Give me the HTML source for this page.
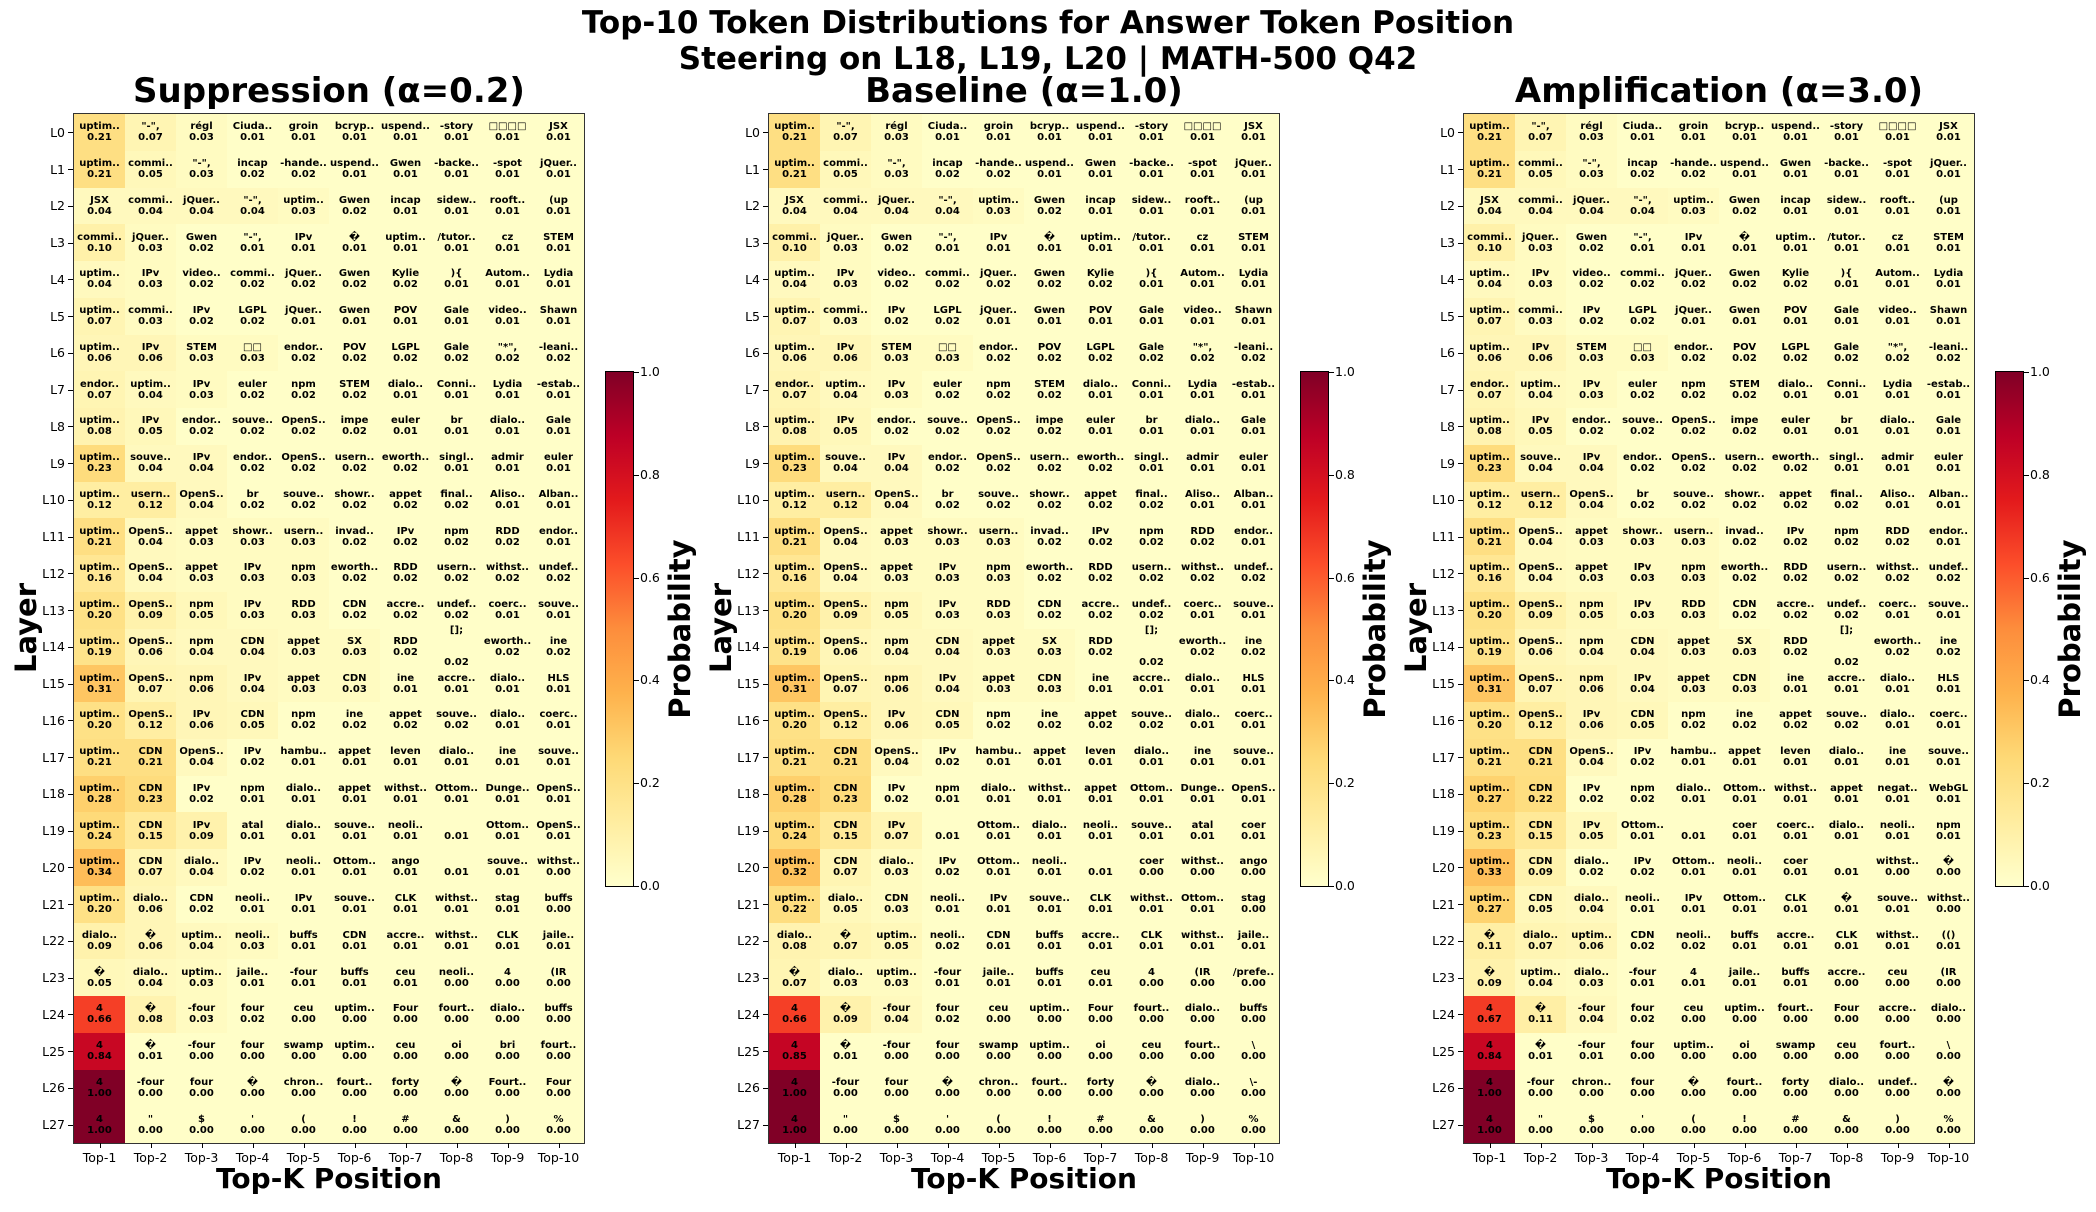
<!DOCTYPE html>
<html><head><meta charset="utf-8"><style>
body{margin:0;width:2096px;height:1212px;background:#fff;position:relative;overflow:hidden;font-family:"DejaVu Sans","Liberation Sans",sans-serif}
.t{position:absolute;font-weight:bold;text-align:center;white-space:nowrap}
.g{position:absolute;top:114px;width:510px;height:1029px;display:grid;grid-template-columns:repeat(10,51px);grid-template-rows:repeat(28,36.75px);background:#fffec8;outline:1.5px solid #333}
.g b{display:flex;align-items:center;justify-content:center;text-align:center;font:bold 10px/11px "DejaVu Sans",sans-serif;white-space:nowrap;color:#000;overflow:visible}
.g b.s{line-height:16px}
.yl{position:absolute;top:114px;width:40px;height:1029px;display:grid;grid-template-rows:repeat(28,36.75px);font-size:12.5px}
.yl span{display:flex;align-items:center;justify-content:flex-end;padding-right:8px;position:relative}
.yl span::after{content:"";position:absolute;right:0;top:50%;width:5px;border-top:1px solid #000}
.xl{position:absolute;top:1143px;width:510px;display:grid;grid-template-columns:repeat(10,51px);font-size:12.5px}
.xl span{text-align:center;padding-top:7px;position:relative}
.xl span::before{content:"";position:absolute;left:50%;top:0;height:5px;border-left:1px solid #000}
.cb{position:absolute;top:372px;width:27px;height:514px;background:linear-gradient(to top,#ffffcc 0%,#ffeda0 12.5%,#fed976 25%,#feb24c 37.5%,#fd8d3c 50%,#fc4e2a 62.5%,#e31a1c 75%,#bd0026 87.5%,#800026 100%);outline:1px solid #000}
.ct{position:absolute;font-size:12.5px;line-height:14px}
.ct::before{content:"";position:absolute;left:-6px;top:7px;width:5px;border-top:1px solid #000}
.rot{position:absolute;font-weight:bold;font-size:29px;transform:translate(-50%,-50%) rotate(-90deg);white-space:nowrap}
.v03{background:#fffbc1}.v04{background:#fff9be}.v05{background:#fff8ba}.v06{background:#fff6b7}.v07{background:#fff5b3}.v08{background:#fff3b0}.v09{background:#fff2ac}.v10{background:#fff1a9}.v11{background:#ffefa5}.v12{background:#ffeea2}.v15{background:#ffe998}.v16{background:#ffe794}.v19{background:#fee38a}.v20{background:#fee186}.v21{background:#fedf83}.v22{background:#fede80}.v23{background:#fedc7d}.v24{background:#feda79}.v27{background:#fed36f}.v28{background:#fed06c}.v31{background:#fec662}.v32{background:#fec35e}.v33{background:#fec05b}.v34{background:#febd58}.v66{background:#f53f26}.v67{background:#f33b25}.v84{background:#c80723}.v85{background:#c50524}.v100{background:#800026}
</style></head><body>
<div class="t" style="left:0;width:2096px;top:5px;font-size:31px;line-height:36px">Top-10 Token Distributions for Answer Token Position<br>Steering on L18, L19, L20 | MATH-500 Q42</div>

<div class="t" style="left:74px;width:510px;top:71px;font-size:34px;line-height:40px">Suppression (α=0.2)</div>
<div class="t" style="left:769px;width:510px;top:71px;font-size:34px;line-height:40px">Baseline (α=1.0)</div>
<div class="t" style="left:1464px;width:510px;top:71px;font-size:34px;line-height:40px">Amplification (α=3.0)</div>

<!-- Panel 1 -->
<div class="g" style="left:74px">
<b class="v21">uptim..<br>0.21</b><b class="v07">"-",<br>0.07</b><b class="v03">régl<br>0.03</b><b>Ciuda..<br>0.01</b><b>groin<br>0.01</b><b>bcryp..<br>0.01</b><b>uspend..<br>0.01</b><b>-story<br>0.01</b><b>□□□□<br>0.01</b><b>JSX<br>0.01</b>
<b class="v21">uptim..<br>0.21</b><b class="v05">commi..<br>0.05</b><b class="v03">"-",<br>0.03</b><b>incap<br>0.02</b><b>-hande..<br>0.02</b><b>uspend..<br>0.01</b><b>Gwen<br>0.01</b><b>-backe..<br>0.01</b><b>-spot<br>0.01</b><b>jQuer..<br>0.01</b>
<b class="v04">JSX<br>0.04</b><b class="v04">commi..<br>0.04</b><b class="v04">jQuer..<br>0.04</b><b class="v04">"-",<br>0.04</b><b class="v03">uptim..<br>0.03</b><b>Gwen<br>0.02</b><b>incap<br>0.01</b><b>sidew..<br>0.01</b><b>rooft..<br>0.01</b><b>(up<br>0.01</b>
<b class="v10">commi..<br>0.10</b><b class="v03">jQuer..<br>0.03</b><b>Gwen<br>0.02</b><b>"-",<br>0.01</b><b>IPv<br>0.01</b><b>�<br>0.01</b><b>uptim..<br>0.01</b><b>/tutor..<br>0.01</b><b>cz<br>0.01</b><b>STEM<br>0.01</b>
<b class="v04">uptim..<br>0.04</b><b class="v03">IPv<br>0.03</b><b>video..<br>0.02</b><b>commi..<br>0.02</b><b>jQuer..<br>0.02</b><b>Gwen<br>0.02</b><b>Kylie<br>0.02</b><b>){<br>0.01</b><b>Autom..<br>0.01</b><b>Lydia<br>0.01</b>
<b class="v07">uptim..<br>0.07</b><b class="v03">commi..<br>0.03</b><b>IPv<br>0.02</b><b>LGPL<br>0.02</b><b>jQuer..<br>0.01</b><b>Gwen<br>0.01</b><b>POV<br>0.01</b><b>Gale<br>0.01</b><b>video..<br>0.01</b><b>Shawn<br>0.01</b>
<b class="v06">uptim..<br>0.06</b><b class="v06">IPv<br>0.06</b><b class="v03">STEM<br>0.03</b><b class="v03">□□<br>0.03</b><b>endor..<br>0.02</b><b>POV<br>0.02</b><b>LGPL<br>0.02</b><b>Gale<br>0.02</b><b>"*",<br>0.02</b><b>-leani..<br>0.02</b>
<b class="v07">endor..<br>0.07</b><b class="v04">uptim..<br>0.04</b><b class="v03">IPv<br>0.03</b><b>euler<br>0.02</b><b>npm<br>0.02</b><b>STEM<br>0.02</b><b>dialo..<br>0.01</b><b>Conni..<br>0.01</b><b>Lydia<br>0.01</b><b>-estab..<br>0.01</b>
<b class="v08">uptim..<br>0.08</b><b class="v05">IPv<br>0.05</b><b>endor..<br>0.02</b><b>souve..<br>0.02</b><b>OpenS..<br>0.02</b><b>impe<br>0.02</b><b>euler<br>0.01</b><b>br<br>0.01</b><b>dialo..<br>0.01</b><b>Gale<br>0.01</b>
<b class="v23">uptim..<br>0.23</b><b class="v04">souve..<br>0.04</b><b class="v04">IPv<br>0.04</b><b>endor..<br>0.02</b><b>OpenS..<br>0.02</b><b>usern..<br>0.02</b><b>eworth..<br>0.02</b><b>singl..<br>0.01</b><b>admir<br>0.01</b><b>euler<br>0.01</b>
<b class="v12">uptim..<br>0.12</b><b class="v12">usern..<br>0.12</b><b class="v04">OpenS..<br>0.04</b><b>br<br>0.02</b><b>souve..<br>0.02</b><b>showr..<br>0.02</b><b>appet<br>0.02</b><b>final..<br>0.02</b><b>Aliso..<br>0.01</b><b>Alban..<br>0.01</b>
<b class="v21">uptim..<br>0.21</b><b class="v04">OpenS..<br>0.04</b><b class="v03">appet<br>0.03</b><b class="v03">showr..<br>0.03</b><b class="v03">usern..<br>0.03</b><b>invad..<br>0.02</b><b>IPv<br>0.02</b><b>npm<br>0.02</b><b>RDD<br>0.02</b><b>endor..<br>0.01</b>
<b class="v16">uptim..<br>0.16</b><b class="v04">OpenS..<br>0.04</b><b class="v03">appet<br>0.03</b><b class="v03">IPv<br>0.03</b><b class="v03">npm<br>0.03</b><b>eworth..<br>0.02</b><b>RDD<br>0.02</b><b>usern..<br>0.02</b><b>withst..<br>0.02</b><b>undef..<br>0.02</b>
<b class="v20">uptim..<br>0.20</b><b class="v09">OpenS..<br>0.09</b><b class="v05">npm<br>0.05</b><b class="v03">IPv<br>0.03</b><b class="v03">RDD<br>0.03</b><b>CDN<br>0.02</b><b>accre..<br>0.02</b><b>undef..<br>0.02</b><b>coerc..<br>0.01</b><b>souve..<br>0.01</b>
<b class="v19">uptim..<br>0.19</b><b class="v06">OpenS..<br>0.06</b><b class="v04">npm<br>0.04</b><b class="v04">CDN<br>0.04</b><b class="v03">appet<br>0.03</b><b class="v03">SX<br>0.03</b><b>RDD<br>0.02</b><b class="s">[];<br><br>0.02</b><b>eworth..<br>0.02</b><b>ine<br>0.02</b>
<b class="v31">uptim..<br>0.31</b><b class="v07">OpenS..<br>0.07</b><b class="v06">npm<br>0.06</b><b class="v04">IPv<br>0.04</b><b class="v03">appet<br>0.03</b><b class="v03">CDN<br>0.03</b><b>ine<br>0.01</b><b>accre..<br>0.01</b><b>dialo..<br>0.01</b><b>HLS<br>0.01</b>
<b class="v20">uptim..<br>0.20</b><b class="v12">OpenS..<br>0.12</b><b class="v06">IPv<br>0.06</b><b class="v05">CDN<br>0.05</b><b>npm<br>0.02</b><b>ine<br>0.02</b><b>appet<br>0.02</b><b>souve..<br>0.02</b><b>dialo..<br>0.01</b><b>coerc..<br>0.01</b>
<b class="v21">uptim..<br>0.21</b><b class="v21">CDN<br>0.21</b><b class="v04">OpenS..<br>0.04</b><b>IPv<br>0.02</b><b>hambu..<br>0.01</b><b>appet<br>0.01</b><b>leven<br>0.01</b><b>dialo..<br>0.01</b><b>ine<br>0.01</b><b>souve..<br>0.01</b>
<b class="v28">uptim..<br>0.28</b><b class="v23">CDN<br>0.23</b><b>IPv<br>0.02</b><b>npm<br>0.01</b><b>dialo..<br>0.01</b><b>appet<br>0.01</b><b>withst..<br>0.01</b><b>Ottom..<br>0.01</b><b>Dunge..<br>0.01</b><b>OpenS..<br>0.01</b>
<b class="v24">uptim..<br>0.24</b><b class="v15">CDN<br>0.15</b><b class="v09">IPv<br>0.09</b><b>atal<br>0.01</b><b>dialo..<br>0.01</b><b>souve..<br>0.01</b><b>neoli..<br>0.01</b><b><br>0.01</b><b>Ottom..<br>0.01</b><b>OpenS..<br>0.01</b>
<b class="v34">uptim..<br>0.34</b><b class="v07">CDN<br>0.07</b><b class="v04">dialo..<br>0.04</b><b>IPv<br>0.02</b><b>neoli..<br>0.01</b><b>Ottom..<br>0.01</b><b>ango<br>0.01</b><b><br>0.01</b><b>souve..<br>0.01</b><b>withst..<br>0.00</b>
<b class="v20">uptim..<br>0.20</b><b class="v06">dialo..<br>0.06</b><b>CDN<br>0.02</b><b>neoli..<br>0.01</b><b>IPv<br>0.01</b><b>souve..<br>0.01</b><b>CLK<br>0.01</b><b>withst..<br>0.01</b><b>stag<br>0.01</b><b>buffs<br>0.00</b>
<b class="v09">dialo..<br>0.09</b><b class="v06">�<br>0.06</b><b class="v04">uptim..<br>0.04</b><b class="v03">neoli..<br>0.03</b><b>buffs<br>0.01</b><b>CDN<br>0.01</b><b>accre..<br>0.01</b><b>withst..<br>0.01</b><b>CLK<br>0.01</b><b>jaile..<br>0.01</b>
<b class="v05">�<br>0.05</b><b class="v04">dialo..<br>0.04</b><b class="v03">uptim..<br>0.03</b><b>jaile..<br>0.01</b><b>-four<br>0.01</b><b>buffs<br>0.01</b><b>ceu<br>0.01</b><b>neoli..<br>0.00</b><b>4<br>0.00</b><b>(IR<br>0.00</b>
<b class="v66">4<br>0.66</b><b class="v08">�<br>0.08</b><b class="v03">-four<br>0.03</b><b>four<br>0.02</b><b>ceu<br>0.00</b><b>uptim..<br>0.00</b><b>Four<br>0.00</b><b>fourt..<br>0.00</b><b>dialo..<br>0.00</b><b>buffs<br>0.00</b>
<b class="v84">4<br>0.84</b><b>�<br>0.01</b><b>-four<br>0.00</b><b>four<br>0.00</b><b>swamp<br>0.00</b><b>uptim..<br>0.00</b><b>ceu<br>0.00</b><b>oi<br>0.00</b><b>bri<br>0.00</b><b>fourt..<br>0.00</b>
<b class="v100">4<br>1.00</b><b>-four<br>0.00</b><b>four<br>0.00</b><b>�<br>0.00</b><b>chron..<br>0.00</b><b>fourt..<br>0.00</b><b>forty<br>0.00</b><b>�<br>0.00</b><b>Fourt..<br>0.00</b><b>Four<br>0.00</b>
<b class="v100">4<br>1.00</b><b>"<br>0.00</b><b>$<br>0.00</b><b>'<br>0.00</b><b>(<br>0.00</b><b>!<br>0.00</b><b>#<br>0.00</b><b>&amp;<br>0.00</b><b>)<br>0.00</b><b>%<br>0.00</b>
</div>

<!-- Panel 2 -->
<div class="g" style="left:769px">
<b class="v21">uptim..<br>0.21</b><b class="v07">"-",<br>0.07</b><b class="v03">régl<br>0.03</b><b>Ciuda..<br>0.01</b><b>groin<br>0.01</b><b>bcryp..<br>0.01</b><b>uspend..<br>0.01</b><b>-story<br>0.01</b><b>□□□□<br>0.01</b><b>JSX<br>0.01</b>
<b class="v21">uptim..<br>0.21</b><b class="v05">commi..<br>0.05</b><b class="v03">"-",<br>0.03</b><b>incap<br>0.02</b><b>-hande..<br>0.02</b><b>uspend..<br>0.01</b><b>Gwen<br>0.01</b><b>-backe..<br>0.01</b><b>-spot<br>0.01</b><b>jQuer..<br>0.01</b>
<b class="v04">JSX<br>0.04</b><b class="v04">commi..<br>0.04</b><b class="v04">jQuer..<br>0.04</b><b class="v04">"-",<br>0.04</b><b class="v03">uptim..<br>0.03</b><b>Gwen<br>0.02</b><b>incap<br>0.01</b><b>sidew..<br>0.01</b><b>rooft..<br>0.01</b><b>(up<br>0.01</b>
<b class="v10">commi..<br>0.10</b><b class="v03">jQuer..<br>0.03</b><b>Gwen<br>0.02</b><b>"-",<br>0.01</b><b>IPv<br>0.01</b><b>�<br>0.01</b><b>uptim..<br>0.01</b><b>/tutor..<br>0.01</b><b>cz<br>0.01</b><b>STEM<br>0.01</b>
<b class="v04">uptim..<br>0.04</b><b class="v03">IPv<br>0.03</b><b>video..<br>0.02</b><b>commi..<br>0.02</b><b>jQuer..<br>0.02</b><b>Gwen<br>0.02</b><b>Kylie<br>0.02</b><b>){<br>0.01</b><b>Autom..<br>0.01</b><b>Lydia<br>0.01</b>
<b class="v07">uptim..<br>0.07</b><b class="v03">commi..<br>0.03</b><b>IPv<br>0.02</b><b>LGPL<br>0.02</b><b>jQuer..<br>0.01</b><b>Gwen<br>0.01</b><b>POV<br>0.01</b><b>Gale<br>0.01</b><b>video..<br>0.01</b><b>Shawn<br>0.01</b>
<b class="v06">uptim..<br>0.06</b><b class="v06">IPv<br>0.06</b><b class="v03">STEM<br>0.03</b><b class="v03">□□<br>0.03</b><b>endor..<br>0.02</b><b>POV<br>0.02</b><b>LGPL<br>0.02</b><b>Gale<br>0.02</b><b>"*",<br>0.02</b><b>-leani..<br>0.02</b>
<b class="v07">endor..<br>0.07</b><b class="v04">uptim..<br>0.04</b><b class="v03">IPv<br>0.03</b><b>euler<br>0.02</b><b>npm<br>0.02</b><b>STEM<br>0.02</b><b>dialo..<br>0.01</b><b>Conni..<br>0.01</b><b>Lydia<br>0.01</b><b>-estab..<br>0.01</b>
<b class="v08">uptim..<br>0.08</b><b class="v05">IPv<br>0.05</b><b>endor..<br>0.02</b><b>souve..<br>0.02</b><b>OpenS..<br>0.02</b><b>impe<br>0.02</b><b>euler<br>0.01</b><b>br<br>0.01</b><b>dialo..<br>0.01</b><b>Gale<br>0.01</b>
<b class="v23">uptim..<br>0.23</b><b class="v04">souve..<br>0.04</b><b class="v04">IPv<br>0.04</b><b>endor..<br>0.02</b><b>OpenS..<br>0.02</b><b>usern..<br>0.02</b><b>eworth..<br>0.02</b><b>singl..<br>0.01</b><b>admir<br>0.01</b><b>euler<br>0.01</b>
<b class="v12">uptim..<br>0.12</b><b class="v12">usern..<br>0.12</b><b class="v04">OpenS..<br>0.04</b><b>br<br>0.02</b><b>souve..<br>0.02</b><b>showr..<br>0.02</b><b>appet<br>0.02</b><b>final..<br>0.02</b><b>Aliso..<br>0.01</b><b>Alban..<br>0.01</b>
<b class="v21">uptim..<br>0.21</b><b class="v04">OpenS..<br>0.04</b><b class="v03">appet<br>0.03</b><b class="v03">showr..<br>0.03</b><b class="v03">usern..<br>0.03</b><b>invad..<br>0.02</b><b>IPv<br>0.02</b><b>npm<br>0.02</b><b>RDD<br>0.02</b><b>endor..<br>0.01</b>
<b class="v16">uptim..<br>0.16</b><b class="v04">OpenS..<br>0.04</b><b class="v03">appet<br>0.03</b><b class="v03">IPv<br>0.03</b><b class="v03">npm<br>0.03</b><b>eworth..<br>0.02</b><b>RDD<br>0.02</b><b>usern..<br>0.02</b><b>withst..<br>0.02</b><b>undef..<br>0.02</b>
<b class="v20">uptim..<br>0.20</b><b class="v09">OpenS..<br>0.09</b><b class="v05">npm<br>0.05</b><b class="v03">IPv<br>0.03</b><b class="v03">RDD<br>0.03</b><b>CDN<br>0.02</b><b>accre..<br>0.02</b><b>undef..<br>0.02</b><b>coerc..<br>0.01</b><b>souve..<br>0.01</b>
<b class="v19">uptim..<br>0.19</b><b class="v06">OpenS..<br>0.06</b><b class="v04">npm<br>0.04</b><b class="v04">CDN<br>0.04</b><b class="v03">appet<br>0.03</b><b class="v03">SX<br>0.03</b><b>RDD<br>0.02</b><b class="s">[];<br><br>0.02</b><b>eworth..<br>0.02</b><b>ine<br>0.02</b>
<b class="v31">uptim..<br>0.31</b><b class="v07">OpenS..<br>0.07</b><b class="v06">npm<br>0.06</b><b class="v04">IPv<br>0.04</b><b class="v03">appet<br>0.03</b><b class="v03">CDN<br>0.03</b><b>ine<br>0.01</b><b>accre..<br>0.01</b><b>dialo..<br>0.01</b><b>HLS<br>0.01</b>
<b class="v20">uptim..<br>0.20</b><b class="v12">OpenS..<br>0.12</b><b class="v06">IPv<br>0.06</b><b class="v05">CDN<br>0.05</b><b>npm<br>0.02</b><b>ine<br>0.02</b><b>appet<br>0.02</b><b>souve..<br>0.02</b><b>dialo..<br>0.01</b><b>coerc..<br>0.01</b>
<b class="v21">uptim..<br>0.21</b><b class="v21">CDN<br>0.21</b><b class="v04">OpenS..<br>0.04</b><b>IPv<br>0.02</b><b>hambu..<br>0.01</b><b>appet<br>0.01</b><b>leven<br>0.01</b><b>dialo..<br>0.01</b><b>ine<br>0.01</b><b>souve..<br>0.01</b>
<b class="v28">uptim..<br>0.28</b><b class="v23">CDN<br>0.23</b><b>IPv<br>0.02</b><b>npm<br>0.01</b><b>dialo..<br>0.01</b><b>withst..<br>0.01</b><b>appet<br>0.01</b><b>Ottom..<br>0.01</b><b>Dunge..<br>0.01</b><b>OpenS..<br>0.01</b>
<b class="v24">uptim..<br>0.24</b><b class="v15">CDN<br>0.15</b><b class="v07">IPv<br>0.07</b><b><br>0.01</b><b>Ottom..<br>0.01</b><b>dialo..<br>0.01</b><b>neoli..<br>0.01</b><b>souve..<br>0.01</b><b>atal<br>0.01</b><b>coer<br>0.01</b>
<b class="v32">uptim..<br>0.32</b><b class="v07">CDN<br>0.07</b><b class="v03">dialo..<br>0.03</b><b>IPv<br>0.02</b><b>Ottom..<br>0.01</b><b>neoli..<br>0.01</b><b><br>0.01</b><b>coer<br>0.00</b><b>withst..<br>0.00</b><b>ango<br>0.00</b>
<b class="v22">uptim..<br>0.22</b><b class="v05">dialo..<br>0.05</b><b class="v03">CDN<br>0.03</b><b>neoli..<br>0.01</b><b>IPv<br>0.01</b><b>souve..<br>0.01</b><b>CLK<br>0.01</b><b>withst..<br>0.01</b><b>Ottom..<br>0.01</b><b>stag<br>0.00</b>
<b class="v08">dialo..<br>0.08</b><b class="v07">�<br>0.07</b><b class="v05">uptim..<br>0.05</b><b>neoli..<br>0.02</b><b>CDN<br>0.01</b><b>buffs<br>0.01</b><b>accre..<br>0.01</b><b>CLK<br>0.01</b><b>withst..<br>0.01</b><b>jaile..<br>0.01</b>
<b class="v07">�<br>0.07</b><b class="v03">dialo..<br>0.03</b><b class="v03">uptim..<br>0.03</b><b>-four<br>0.01</b><b>jaile..<br>0.01</b><b>buffs<br>0.01</b><b>ceu<br>0.01</b><b>4<br>0.00</b><b>(IR<br>0.00</b><b>/prefe..<br>0.00</b>
<b class="v66">4<br>0.66</b><b class="v09">�<br>0.09</b><b class="v04">-four<br>0.04</b><b>four<br>0.02</b><b>ceu<br>0.00</b><b>uptim..<br>0.00</b><b>Four<br>0.00</b><b>fourt..<br>0.00</b><b>dialo..<br>0.00</b><b>buffs<br>0.00</b>
<b class="v85">4<br>0.85</b><b>�<br>0.01</b><b>-four<br>0.00</b><b>four<br>0.00</b><b>swamp<br>0.00</b><b>uptim..<br>0.00</b><b>oi<br>0.00</b><b>ceu<br>0.00</b><b>fourt..<br>0.00</b><b>\<br>0.00</b>
<b class="v100">4<br>1.00</b><b>-four<br>0.00</b><b>four<br>0.00</b><b>�<br>0.00</b><b>chron..<br>0.00</b><b>fourt..<br>0.00</b><b>forty<br>0.00</b><b>�<br>0.00</b><b>dialo..<br>0.00</b><b>\-<br>0.00</b>
<b class="v100">4<br>1.00</b><b>"<br>0.00</b><b>$<br>0.00</b><b>'<br>0.00</b><b>(<br>0.00</b><b>!<br>0.00</b><b>#<br>0.00</b><b>&amp;<br>0.00</b><b>)<br>0.00</b><b>%<br>0.00</b>
</div>

<!-- Panel 3 -->
<div class="g" style="left:1464px">
<b class="v21">uptim..<br>0.21</b><b class="v07">"-",<br>0.07</b><b class="v03">régl<br>0.03</b><b>Ciuda..<br>0.01</b><b>groin<br>0.01</b><b>bcryp..<br>0.01</b><b>uspend..<br>0.01</b><b>-story<br>0.01</b><b>□□□□<br>0.01</b><b>JSX<br>0.01</b>
<b class="v21">uptim..<br>0.21</b><b class="v05">commi..<br>0.05</b><b class="v03">"-",<br>0.03</b><b>incap<br>0.02</b><b>-hande..<br>0.02</b><b>uspend..<br>0.01</b><b>Gwen<br>0.01</b><b>-backe..<br>0.01</b><b>-spot<br>0.01</b><b>jQuer..<br>0.01</b>
<b class="v04">JSX<br>0.04</b><b class="v04">commi..<br>0.04</b><b class="v04">jQuer..<br>0.04</b><b class="v04">"-",<br>0.04</b><b class="v03">uptim..<br>0.03</b><b>Gwen<br>0.02</b><b>incap<br>0.01</b><b>sidew..<br>0.01</b><b>rooft..<br>0.01</b><b>(up<br>0.01</b>
<b class="v10">commi..<br>0.10</b><b class="v03">jQuer..<br>0.03</b><b>Gwen<br>0.02</b><b>"-",<br>0.01</b><b>IPv<br>0.01</b><b>�<br>0.01</b><b>uptim..<br>0.01</b><b>/tutor..<br>0.01</b><b>cz<br>0.01</b><b>STEM<br>0.01</b>
<b class="v04">uptim..<br>0.04</b><b class="v03">IPv<br>0.03</b><b>video..<br>0.02</b><b>commi..<br>0.02</b><b>jQuer..<br>0.02</b><b>Gwen<br>0.02</b><b>Kylie<br>0.02</b><b>){<br>0.01</b><b>Autom..<br>0.01</b><b>Lydia<br>0.01</b>
<b class="v07">uptim..<br>0.07</b><b class="v03">commi..<br>0.03</b><b>IPv<br>0.02</b><b>LGPL<br>0.02</b><b>jQuer..<br>0.01</b><b>Gwen<br>0.01</b><b>POV<br>0.01</b><b>Gale<br>0.01</b><b>video..<br>0.01</b><b>Shawn<br>0.01</b>
<b class="v06">uptim..<br>0.06</b><b class="v06">IPv<br>0.06</b><b class="v03">STEM<br>0.03</b><b class="v03">□□<br>0.03</b><b>endor..<br>0.02</b><b>POV<br>0.02</b><b>LGPL<br>0.02</b><b>Gale<br>0.02</b><b>"*",<br>0.02</b><b>-leani..<br>0.02</b>
<b class="v07">endor..<br>0.07</b><b class="v04">uptim..<br>0.04</b><b class="v03">IPv<br>0.03</b><b>euler<br>0.02</b><b>npm<br>0.02</b><b>STEM<br>0.02</b><b>dialo..<br>0.01</b><b>Conni..<br>0.01</b><b>Lydia<br>0.01</b><b>-estab..<br>0.01</b>
<b class="v08">uptim..<br>0.08</b><b class="v05">IPv<br>0.05</b><b>endor..<br>0.02</b><b>souve..<br>0.02</b><b>OpenS..<br>0.02</b><b>impe<br>0.02</b><b>euler<br>0.01</b><b>br<br>0.01</b><b>dialo..<br>0.01</b><b>Gale<br>0.01</b>
<b class="v23">uptim..<br>0.23</b><b class="v04">souve..<br>0.04</b><b class="v04">IPv<br>0.04</b><b>endor..<br>0.02</b><b>OpenS..<br>0.02</b><b>usern..<br>0.02</b><b>eworth..<br>0.02</b><b>singl..<br>0.01</b><b>admir<br>0.01</b><b>euler<br>0.01</b>
<b class="v12">uptim..<br>0.12</b><b class="v12">usern..<br>0.12</b><b class="v04">OpenS..<br>0.04</b><b>br<br>0.02</b><b>souve..<br>0.02</b><b>showr..<br>0.02</b><b>appet<br>0.02</b><b>final..<br>0.02</b><b>Aliso..<br>0.01</b><b>Alban..<br>0.01</b>
<b class="v21">uptim..<br>0.21</b><b class="v04">OpenS..<br>0.04</b><b class="v03">appet<br>0.03</b><b class="v03">showr..<br>0.03</b><b class="v03">usern..<br>0.03</b><b>invad..<br>0.02</b><b>IPv<br>0.02</b><b>npm<br>0.02</b><b>RDD<br>0.02</b><b>endor..<br>0.01</b>
<b class="v16">uptim..<br>0.16</b><b class="v04">OpenS..<br>0.04</b><b class="v03">appet<br>0.03</b><b class="v03">IPv<br>0.03</b><b class="v03">npm<br>0.03</b><b>eworth..<br>0.02</b><b>RDD<br>0.02</b><b>usern..<br>0.02</b><b>withst..<br>0.02</b><b>undef..<br>0.02</b>
<b class="v20">uptim..<br>0.20</b><b class="v09">OpenS..<br>0.09</b><b class="v05">npm<br>0.05</b><b class="v03">IPv<br>0.03</b><b class="v03">RDD<br>0.03</b><b>CDN<br>0.02</b><b>accre..<br>0.02</b><b>undef..<br>0.02</b><b>coerc..<br>0.01</b><b>souve..<br>0.01</b>
<b class="v19">uptim..<br>0.19</b><b class="v06">OpenS..<br>0.06</b><b class="v04">npm<br>0.04</b><b class="v04">CDN<br>0.04</b><b class="v03">appet<br>0.03</b><b class="v03">SX<br>0.03</b><b>RDD<br>0.02</b><b class="s">[];<br><br>0.02</b><b>eworth..<br>0.02</b><b>ine<br>0.02</b>
<b class="v31">uptim..<br>0.31</b><b class="v07">OpenS..<br>0.07</b><b class="v06">npm<br>0.06</b><b class="v04">IPv<br>0.04</b><b class="v03">appet<br>0.03</b><b class="v03">CDN<br>0.03</b><b>ine<br>0.01</b><b>accre..<br>0.01</b><b>dialo..<br>0.01</b><b>HLS<br>0.01</b>
<b class="v20">uptim..<br>0.20</b><b class="v12">OpenS..<br>0.12</b><b class="v06">IPv<br>0.06</b><b class="v05">CDN<br>0.05</b><b>npm<br>0.02</b><b>ine<br>0.02</b><b>appet<br>0.02</b><b>souve..<br>0.02</b><b>dialo..<br>0.01</b><b>coerc..<br>0.01</b>
<b class="v21">uptim..<br>0.21</b><b class="v21">CDN<br>0.21</b><b class="v04">OpenS..<br>0.04</b><b>IPv<br>0.02</b><b>hambu..<br>0.01</b><b>appet<br>0.01</b><b>leven<br>0.01</b><b>dialo..<br>0.01</b><b>ine<br>0.01</b><b>souve..<br>0.01</b>
<b class="v27">uptim..<br>0.27</b><b class="v22">CDN<br>0.22</b><b>IPv<br>0.02</b><b>npm<br>0.02</b><b>dialo..<br>0.01</b><b>Ottom..<br>0.01</b><b>withst..<br>0.01</b><b>appet<br>0.01</b><b>negat..<br>0.01</b><b>WebGL<br>0.01</b>
<b class="v23">uptim..<br>0.23</b><b class="v15">CDN<br>0.15</b><b class="v05">IPv<br>0.05</b><b>Ottom..<br>0.01</b><b><br>0.01</b><b>coer<br>0.01</b><b>coerc..<br>0.01</b><b>dialo..<br>0.01</b><b>neoli..<br>0.01</b><b>npm<br>0.01</b>
<b class="v33">uptim..<br>0.33</b><b class="v09">CDN<br>0.09</b><b>dialo..<br>0.02</b><b>IPv<br>0.02</b><b>Ottom..<br>0.01</b><b>neoli..<br>0.01</b><b>coer<br>0.01</b><b><br>0.01</b><b>withst..<br>0.00</b><b>�<br>0.00</b>
<b class="v27">uptim..<br>0.27</b><b class="v05">CDN<br>0.05</b><b class="v04">dialo..<br>0.04</b><b>neoli..<br>0.01</b><b>IPv<br>0.01</b><b>Ottom..<br>0.01</b><b>CLK<br>0.01</b><b>�<br>0.01</b><b>souve..<br>0.01</b><b>withst..<br>0.00</b>
<b class="v11">�<br>0.11</b><b class="v07">dialo..<br>0.07</b><b class="v06">uptim..<br>0.06</b><b>CDN<br>0.02</b><b>neoli..<br>0.02</b><b>buffs<br>0.01</b><b>accre..<br>0.01</b><b>CLK<br>0.01</b><b>withst..<br>0.01</b><b>(()<br>0.01</b>
<b class="v09">�<br>0.09</b><b class="v04">uptim..<br>0.04</b><b class="v03">dialo..<br>0.03</b><b>-four<br>0.01</b><b>4<br>0.01</b><b>jaile..<br>0.01</b><b>buffs<br>0.01</b><b>accre..<br>0.00</b><b>ceu<br>0.00</b><b>(IR<br>0.00</b>
<b class="v67">4<br>0.67</b><b class="v11">�<br>0.11</b><b class="v04">-four<br>0.04</b><b>four<br>0.02</b><b>ceu<br>0.00</b><b>uptim..<br>0.00</b><b>fourt..<br>0.00</b><b>Four<br>0.00</b><b>accre..<br>0.00</b><b>dialo..<br>0.00</b>
<b class="v84">4<br>0.84</b><b>�<br>0.01</b><b>-four<br>0.01</b><b>four<br>0.00</b><b>uptim..<br>0.00</b><b>oi<br>0.00</b><b>swamp<br>0.00</b><b>ceu<br>0.00</b><b>fourt..<br>0.00</b><b>\<br>0.00</b>
<b class="v100">4<br>1.00</b><b>-four<br>0.00</b><b>chron..<br>0.00</b><b>four<br>0.00</b><b>�<br>0.00</b><b>fourt..<br>0.00</b><b>forty<br>0.00</b><b>dialo..<br>0.00</b><b>undef..<br>0.00</b><b>�<br>0.00</b>
<b class="v100">4<br>1.00</b><b>"<br>0.00</b><b>$<br>0.00</b><b>'<br>0.00</b><b>(<br>0.00</b><b>!<br>0.00</b><b>#<br>0.00</b><b>&amp;<br>0.00</b><b>)<br>0.00</b><b>%<br>0.00</b>
</div>

<!-- y tick labels -->
<div class="yl" style="left:33px"><span>L0</span><span>L1</span><span>L2</span><span>L3</span><span>L4</span><span>L5</span><span>L6</span><span>L7</span><span>L8</span><span>L9</span><span>L10</span><span>L11</span><span>L12</span><span>L13</span><span>L14</span><span>L15</span><span>L16</span><span>L17</span><span>L18</span><span>L19</span><span>L20</span><span>L21</span><span>L22</span><span>L23</span><span>L24</span><span>L25</span><span>L26</span><span>L27</span></div>
<div class="yl" style="left:728px"><span>L0</span><span>L1</span><span>L2</span><span>L3</span><span>L4</span><span>L5</span><span>L6</span><span>L7</span><span>L8</span><span>L9</span><span>L10</span><span>L11</span><span>L12</span><span>L13</span><span>L14</span><span>L15</span><span>L16</span><span>L17</span><span>L18</span><span>L19</span><span>L20</span><span>L21</span><span>L22</span><span>L23</span><span>L24</span><span>L25</span><span>L26</span><span>L27</span></div>
<div class="yl" style="left:1423px"><span>L0</span><span>L1</span><span>L2</span><span>L3</span><span>L4</span><span>L5</span><span>L6</span><span>L7</span><span>L8</span><span>L9</span><span>L10</span><span>L11</span><span>L12</span><span>L13</span><span>L14</span><span>L15</span><span>L16</span><span>L17</span><span>L18</span><span>L19</span><span>L20</span><span>L21</span><span>L22</span><span>L23</span><span>L24</span><span>L25</span><span>L26</span><span>L27</span></div>

<!-- x tick labels -->
<div class="xl" style="left:74px"><span>Top-1</span><span>Top-2</span><span>Top-3</span><span>Top-4</span><span>Top-5</span><span>Top-6</span><span>Top-7</span><span>Top-8</span><span>Top-9</span><span>Top-10</span></div>
<div class="xl" style="left:769px"><span>Top-1</span><span>Top-2</span><span>Top-3</span><span>Top-4</span><span>Top-5</span><span>Top-6</span><span>Top-7</span><span>Top-8</span><span>Top-9</span><span>Top-10</span></div>
<div class="xl" style="left:1464px"><span>Top-1</span><span>Top-2</span><span>Top-3</span><span>Top-4</span><span>Top-5</span><span>Top-6</span><span>Top-7</span><span>Top-8</span><span>Top-9</span><span>Top-10</span></div>

<div class="t" style="left:74px;width:510px;top:1162px;font-size:28px;line-height:34px">Top-K Position</div>
<div class="t" style="left:769px;width:510px;top:1162px;font-size:28px;line-height:34px">Top-K Position</div>
<div class="t" style="left:1464px;width:510px;top:1162px;font-size:28px;line-height:34px">Top-K Position</div>

<div class="rot" style="left:26px;top:628px">Layer</div>
<div class="rot" style="left:721px;top:628px">Layer</div>
<div class="rot" style="left:1416px;top:628px">Layer</div>

<!-- colorbars -->
<div class="cb" style="left:606px"></div>
<div class="ct" style="left:640px;top:365px">1.0</div><div class="ct" style="left:640px;top:468px">0.8</div><div class="ct" style="left:640px;top:571px">0.6</div><div class="ct" style="left:640px;top:673px">0.4</div><div class="ct" style="left:640px;top:776px">0.2</div><div class="ct" style="left:640px;top:879px">0.0</div>
<div class="rot" style="left:680px;top:629px">Probability</div>

<div class="cb" style="left:1301px"></div>
<div class="ct" style="left:1335px;top:365px">1.0</div><div class="ct" style="left:1335px;top:468px">0.8</div><div class="ct" style="left:1335px;top:571px">0.6</div><div class="ct" style="left:1335px;top:673px">0.4</div><div class="ct" style="left:1335px;top:776px">0.2</div><div class="ct" style="left:1335px;top:879px">0.0</div>
<div class="rot" style="left:1375px;top:629px">Probability</div>

<div class="cb" style="left:1996px"></div>
<div class="ct" style="left:2030px;top:365px">1.0</div><div class="ct" style="left:2030px;top:468px">0.8</div><div class="ct" style="left:2030px;top:571px">0.6</div><div class="ct" style="left:2030px;top:673px">0.4</div><div class="ct" style="left:2030px;top:776px">0.2</div><div class="ct" style="left:2030px;top:879px">0.0</div>
<div class="rot" style="left:2070px;top:629px">Probability</div>
</body></html>
